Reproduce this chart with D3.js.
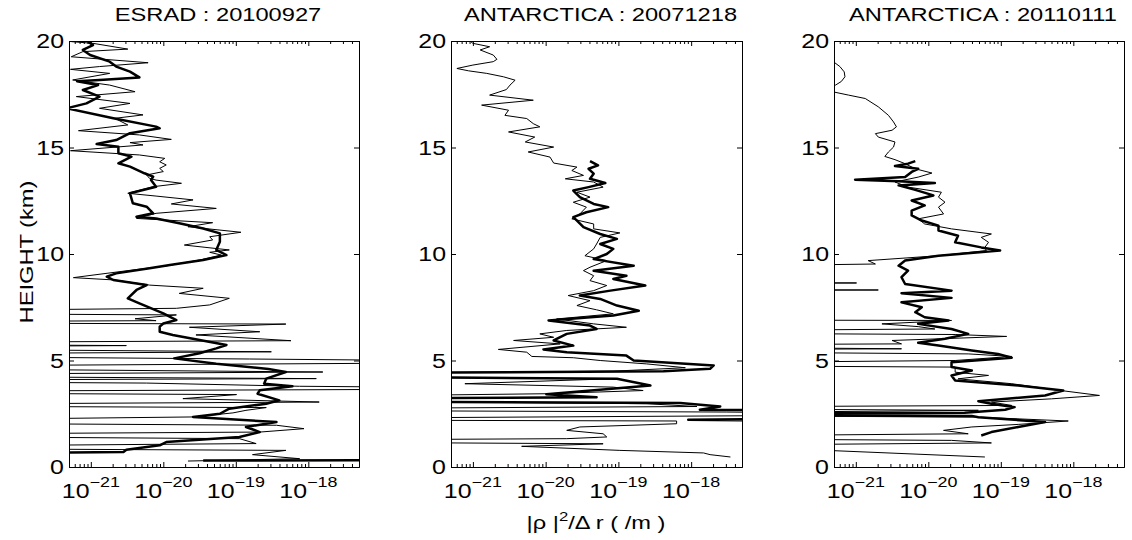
<!DOCTYPE html>
<html><head><meta charset="utf-8">
<script src="https://cdn.jsdelivr.net/npm/d3@7"></script>
<style>
body{margin:0;background:#fff}
svg{display:block}
text{font-family:"Liberation Sans",Arial,Helvetica,sans-serif;fill:#000}
</style>
</head><body>
<svg id="c" width="1132" height="540"></svg>
<script>
// ---- tick labels & titles ----
const panelTitles = ["ESRAD : 20100927", "ANTARCTICA : 20071218", "ANTARCTICA : 20110111"];
const yTickValues = [0, 5, 10, 15, 20];
const xTickExponents = [-21, -20, -19, -18];
const xDomain = [5e-22, 5e-18];
const yDomain = [0, 20];
const yLabel = "HEIGHT (km)";

// ---- profiles: [height km, log10(|rho|^2/Δr  /m)] ----
const esradThin = [[19.97,-21.27],[19.89,-20.97],[19.62,-20.49],[19.50,-21.11],[19.26,-21.27],[18.98,-20.21],[18.80,-20.88],[18.67,-21.28],[18.48,-20.74],[18.17,-21.25],[17.93,-20.74],[17.62,-20.39],[17.39,-21.20],[17.07,-20.46],[16.84,-20.88],[16.53,-20.28],[16.37,-20.67],[16.06,-20.49],[15.79,-21.17],[15.59,-20.33],[15.38,-19.89],[15.23,-20.46],[15.12,-20.28],[14.85,-21.28],[14.65,-20.33],[14.49,-19.98],[14.33,-20.05],[14.18,-19.96],[14.02,-20.05],[13.87,-20.00],[13.71,-20.23],[13.55,-20.19],[13.47,-20.10],[13.32,-19.75],[13.16,-20.14],[12.85,-20.49],[12.72,-20.10],[12.54,-19.59],[12.35,-19.89],[12.14,-19.27],[11.91,-20.10],[11.67,-20.37],[11.47,-19.32],[11.28,-19.66],[11.02,-18.93],[10.81,-19.36],[10.66,-19.32],[10.42,-19.71],[10.19,-19.09],[10.08,-19.36],[9.95,-19.20],[9.72,-19.50],[9.44,-19.96],[9.25,-20.42],[9.01,-20.97],[8.89,-21.24],[8.78,-20.67],[8.54,-20.19],[8.39,-19.45],[8.15,-19.78],[7.92,-19.09],[7.61,-19.36],[7.45,-19.82],[7.25,-26],[7.14,-19.82],[6.96,-20.39],[6.87,-20.10],[6.79,-26],[6.71,-18.31],[6.56,-19.64],[6.35,-18.67],[6.20,-19.55],[5.93,-18.24],[5.81,-26],[5.70,-20.51],[5.60,-26],[5.41,-18.51],[5.26,-26],[5.07,-18.81],[4.93,-14],[4.69,-26],[4.46,-17.80],[4.30,-26],[4.15,-17.89],[4.05,-26],[3.94,-20.23],[3.79,-18.12],[3.68,-14],[3.52,-26],[3.40,-18.99],[3.21,-19.73],[3.05,-17.85],[2.90,-26],[2.79,-18.58],[2.66,-18.86],[2.54,-19.04],[2.35,-19.59],[2.11,-26],[1.96,-18.44],[1.80,-18.06],[1.64,-18.67],[1.49,-26],[1.33,-18.95],[1.10,-18.72],[0.91,-26],[0.78,-18.31],[0.58,-18.77],[0.39,-18.12],[0.28,-19.66]];
const esradThick = [[19.97,-21.04],[19.81,-20.97],[19.58,-21.11],[19.34,-21.01],[19.03,-20.74],[18.80,-20.65],[18.56,-20.46],[18.29,-20.33],[18.17,-20.88],[18.11,-21.19],[17.93,-20.90],[17.70,-21.11],[17.39,-20.88],[17.07,-21.06],[16.84,-21.33],[16.37,-20.69],[15.98,-20.10],[15.90,-20.05],[15.67,-20.46],[15.35,-20.65],[15.16,-20.92],[15.04,-20.62],[14.73,-20.62],[14.57,-20.44],[14.26,-20.62],[14.10,-20.46],[13.79,-20.26],[13.63,-20.14],[13.47,-20.17],[13.16,-20.10],[12.85,-20.46],[12.38,-20.42],[12.22,-20.23],[11.91,-20.14],[11.75,-20.37],[11.67,-20.10],[11.44,-19.78],[11.20,-19.45],[10.97,-19.22],[10.58,-19.22],[10.19,-19.27],[9.95,-19.13],[9.72,-19.45],[9.48,-19.91],[9.33,-20.19],[9.09,-20.65],[8.94,-20.78],[8.78,-20.69],[8.54,-20.23],[8.31,-20.37],[7.92,-20.49],[7.68,-20.33],[7.21,-20.00],[6.90,-19.82],[6.74,-20.00],[6.59,-20.05],[6.35,-20.05],[6.20,-19.87],[5.96,-19.50],[5.73,-19.13],[5.57,-19.27],[5.34,-19.50],[5.10,-19.85],[4.85,-19.27],[4.60,-18.55],[4.46,-18.31],[4.15,-18.58],[3.91,-18.61],[3.79,-18.22],[3.60,-18.67],[3.44,-18.70],[3.13,-18.40],[2.97,-18.58],[2.74,-19.09],[2.50,-19.22],[2.35,-19.59],[2.11,-18.44],[1.88,-18.86],[1.64,-18.67],[1.41,-18.95],[1.17,-19.96],[1.02,-20.05],[0.81,-20.51],[0.70,-20.55],[0.55,-26],[null,null],[0.33,-14],[0.30,-19.45]];

const ant07Thin = [[20.0,-21.04],[19.89,-21.0],[19.73,-20.77],[19.58,-20.90],[19.34,-20.72],[19.14,-20.67],[19.03,-20.72],[18.87,-21.0],[18.71,-21.22],[18.60,-21.06],[18.48,-20.81],[18.32,-20.58],[18.16,-20.42],[17.93,-20.49],[17.72,-20.54],[17.46,-20.77],[17.22,-20.17],[16.99,-20.88],[16.75,-20.51],[16.51,-20.56],[16.36,-20.26],[16.12,-20.17],[15.97,-20.08],[15.73,-20.51],[15.49,-20.15],[15.26,-20.28],[15.02,-19.89],[14.79,-20.24],[14.55,-19.94],[14.27,-19.89],[14.08,-19.57],[13.92,-19.64],[13.69,-19.48],[13.53,-19.73],[13.38,-19.34],[13.14,-19.21],[12.90,-19.57],[12.67,-19.39],[12.43,-19.62],[12.20,-19.44],[11.88,-19.53],[11.65,-19.64],[11.41,-19.34],[11.18,-19.34],[10.99,-18.98],[10.78,-19.25],[10.47,-19.30],[10.24,-19.34],[9.92,-19.46],[9.69,-19.16],[9.38,-19.39],[9.22,-19.48],[8.98,-19.34],[8.75,-19.39],[8.52,-19.16],[8.28,-19.34],[8.05,-19.69],[7.81,-19.39],[7.58,-19.57],[7.38,-19.30],[7.19,-19.07],[6.95,-19.85],[6.72,-19.34],[6.56,-18.89],[6.41,-19.71],[6.25,-20.08],[6.09,-19.89],[5.94,-20.44],[5.78,-19.80],[5.52,-20.65],[5.39,-20.26],[5.19,-20.19],[5.13,-19.62],[5.00,-19.25],[4.84,-18.61],[4.66,-18.08],[4.50,-19.07],[4.30,-26],[4.14,-19.11],[3.91,-21.11],[3.75,-19.07],[3.59,-18.66],[3.44,-19.99],[3.20,-26],[2.97,-18.61],[2.84,-17.92],[2.69,-26],[2.58,-17.51],[2.47,-14],[2.23,-26],[2.16,-18.20],[2.03,-18.20],[1.88,-19.53],[1.72,-19.71],[1.56,-19.21],[1.41,-19.16],[1.33,-19.71],[1.22,-26],[1.09,-19.21],[0.97,-20.33],[0.78,-18.98],[0.66,-17.83],[0.58,-17.74],[0.47,-17.46]];
const ant07Thick = [[14.36,-19.39],[14.16,-19.28],[14.00,-19.41],[13.77,-19.34],[13.53,-19.39],[13.33,-19.18],[13.14,-19.41],[12.98,-19.62],[12.67,-19.53],[12.35,-19.34],[12.20,-19.14],[11.96,-19.44],[11.73,-19.62],[11.57,-19.57],[11.26,-19.48],[10.94,-19.25],[10.71,-19.02],[10.47,-19.25],[10.24,-19.07],[10.00,-19.16],[9.76,-19.34],[9.45,-18.79],[9.21,-19.34],[8.98,-18.89],[8.83,-19.07],[8.52,-18.63],[8.28,-19.11],[8.05,-19.53],[7.89,-19.25],[7.58,-19.02],[7.34,-18.72],[7.11,-19.07],[6.88,-19.96],[6.64,-19.39],[6.48,-19.30],[6.25,-19.71],[5.94,-19.89],[5.70,-19.62],[5.52,-20.03],[5.39,-19.71],[5.23,-18.89],[5.00,-18.79],[4.77,-17.69],[4.61,-17.74],[4.50,-18.38],[4.33,-26],[4.14,-19.02],[3.83,-18.56],[3.41,-19.99],[3.28,-19.30],[3.13,-26],[3.00,-18.15],[2.84,-17.60],[2.69,-17.88],[2.58,-14],[2.34,-14],[2.22,-18.04],[2.06,-14]];

const ant11Thin = [[20.0,-21.5],[19.6,-21.3],[19.4,-21.6],[19.1,-21.35],[19.03,-21.31],[18.80,-21.22],[18.55,-21.16],[18.32,-21.15],[18.10,-21.20],[17.93,-21.28],[17.80,-21.33],[17.65,-21.36],[17.61,-21.31],[17.46,-21.10],[17.30,-20.87],[16.91,-20.69],[16.51,-20.55],[16.20,-20.48],[15.97,-20.44],[15.81,-20.50],[15.65,-20.73],[15.49,-20.69],[15.26,-20.46],[15.02,-20.48],[14.79,-20.55],[14.58,-20.60],[14.43,-20.46],[14.24,-20.32],[14.00,-20.18],[13.80,-19.95],[13.61,-20.14],[13.38,-20.46],[13.14,-20.28],[12.90,-19.82],[12.67,-19.86],[12.43,-19.77],[12.20,-19.86],[11.88,-19.79],[11.65,-20.14],[11.41,-20.05],[11.18,-19.68],[10.94,-19.13],[10.78,-19.27],[10.55,-19.17],[10.31,-19.22],[10.16,-19.20],[9.92,-19.86],[9.69,-20.83],[9.53,-20.73],[9.29,-26],[8.67,-26],[8.64,-20.99],[8.60,-26],[8.34,-26],[8.31,-20.69],[8.27,-26],[6.92,-26],[6.88,-19.68],[6.72,-20.64],[6.59,-20.14],[6.48,-19.91],[6.33,-26],[6.22,-19.63],[6.13,-18.92],[5.94,-20.50],[5.78,-20.37],[5.70,-26],[5.55,-20.37],[5.47,-26],[5.31,-19.45],[5.19,-18.85],[5.00,-19.63],[4.81,-26],[4.69,-19.63],[4.45,-19.63],[4.30,-19.17],[4.14,-19.59],[3.91,-18.85],[3.59,-18.17],[3.36,-17.64],[3.20,-18.30],[3.05,-19.13],[2.89,-18.85],[2.78,-26],[2.66,-19.31],[2.47,-26],[2.34,-19.31],[2.16,-18.07],[2.00,-18.76],[1.88,-19.40],[1.72,-19.79],[1.56,-19.45],[1.38,-26],[1.25,-19.68],[1.13,-19.13],[0.94,-26],[0.78,-21.40],[0.47,-19.22]];
const ant11Thick = [[14.36,-20.18],[14.24,-20.28],[14.13,-20.46],[14.00,-20.14],[13.85,-20.23],[13.61,-20.32],[13.49,-21.01],[13.42,-20.41],[13.33,-19.91],[13.22,-20.41],[13.01,-20.18],[12.75,-19.93],[12.51,-20.23],[12.28,-20.05],[12.04,-20.23],[11.81,-20.23],[11.57,-20.09],[11.33,-19.86],[11.10,-19.86],[10.86,-19.59],[10.55,-19.63],[10.31,-19.27],[10.16,-19.01],[9.92,-19.86],[9.69,-20.32],[9.45,-20.41],[9.22,-20.28],[8.91,-20.37],[8.59,-20.32],[8.28,-19.68],[8.16,-20.37],[7.94,-19.68],[7.73,-20.37],[7.50,-20.09],[7.27,-20.18],[7.03,-20.05],[6.88,-19.72],[6.72,-20.14],[6.48,-19.68],[6.25,-19.45],[6.02,-19.77],[5.83,-20.14],[5.70,-19.86],[5.47,-19.40],[5.31,-19.04],[5.13,-18.85],[4.92,-19.68],[4.69,-19.68],[4.53,-19.40],[4.30,-19.68],[4.06,-19.63],[3.83,-18.76],[3.59,-18.14],[3.36,-18.39],[3.09,-19.31],[2.97,-19.13],[2.81,-18.81],[2.69,-18.94],[2.55,-19.50],[2.47,-26],[2.40,-19.40],[2.34,-19.31],[2.11,-18.39],[1.88,-18.76],[1.64,-19.13],[1.48,-19.27]];

const xLabelMain = ["|ρ |", "2", "/Δ r  ( /m )"];

// ---- drawing ----
const svg = d3.select("#c");
const plotTop = 41, plotBottom = 467;
const panels = [
  {title: panelTitles[0], thin: esradThin, thick: esradThick, x0: 69, x1: 359},
  {title: panelTitles[1], thin: ant07Thin, thick: ant07Thick, x0: 451, x1: 742},
  {title: panelTitles[2], thin: ant11Thin, thick: ant11Thick, x0: 834, x1: 1124}
];
const y = d3.scaleLinear().domain(yDomain).range([plotBottom, plotTop]);
const SX = 1.28;

panels.forEach((p, i) => {
  const x = d3.scaleLog().domain(xDomain).range([p.x0, p.x1]);
  const g = svg.append("g");
  const cid = "clip" + i;
  svg.append("defs").append("clipPath").attr("id", cid)
    .append("rect").attr("x", p.x0).attr("y", plotTop)
    .attr("width", p.x1 - p.x0).attr("height", plotBottom - plotTop);

  const line = d3.line()
    .defined(d => d[0] != null)
    .x(d => x(Math.pow(10, d[1])))
    .y(d => y(d[0]));

  g.append("path").attr("clip-path", `url(#${cid})`)
    .attr("d", line(p.thin)).attr("fill", "none")
    .attr("stroke", "#000").attr("stroke-width", 1).attr("stroke-linejoin", "round");
  g.append("path").attr("clip-path", `url(#${cid})`)
    .attr("d", line(p.thick)).attr("fill", "none")
    .attr("stroke", "#000").attr("stroke-width", 2.5).attr("stroke-linejoin", "round");

  const all = x.ticks();
  const isMajor = v => Math.abs(Math.log10(v) - Math.round(Math.log10(v))) < 1e-6;
  const major = xTickExponents.map(e => Math.pow(10, e));
  const minor = all.filter(v => !isMajor(v));

  const mkAx = (axFn, vals, size) => axFn(x).tickValues(vals).tickSize(size).tickSizeOuter(0).tickFormat("");
  [[d3.axisBottom, plotBottom], [d3.axisTop, plotTop]].forEach(([fn, ty]) => {
    g.append("g").attr("transform", `translate(0,${ty})`).call(mkAx(fn, minor, -3));
    g.append("g").attr("transform", `translate(0,${ty})`).call(mkAx(fn, major, -5));
  });
  g.append("g").attr("transform", `translate(${p.x0},0)`)
    .call(d3.axisLeft(y).tickValues(yTickValues).tickSize(-5).tickSizeOuter(0).tickFormat(""));
  g.append("g").attr("transform", `translate(${p.x1},0)`)
    .call(d3.axisRight(y).tickValues(yTickValues).tickSize(-5).tickSizeOuter(0).tickFormat(""));
  g.selectAll(".domain").attr("stroke", "#000").attr("stroke-width", 1);
  g.selectAll(".tick line").attr("stroke", "#000");

  // y tick labels
  yTickValues.forEach(v => {
    g.append("g").attr("transform", `translate(${p.x0 - 5},${y(v) + 7}) scale(${SX},1)`)
      .append("text").attr("text-anchor", "end").attr("font-size", 19.5).text(v);
  });
  // x tick labels
  xTickExponents.forEach(e => {
    const t = g.append("g").attr("transform", `translate(${x(Math.pow(10, e))},498) scale(${SX},1)`)
      .append("text").attr("text-anchor", "middle").attr("font-size", 19.5);
    t.append("tspan").text("10");
    t.append("tspan").attr("font-size", 14).attr("dy", -11).text("\u2212" + Math.abs(e));
  });
  // title
  g.append("g").attr("transform", `translate(${(p.x0 + p.x1) / 2 + 4},21) scale(${SX},1)`)
    .append("text").attr("text-anchor", "middle").attr("font-size", 18.5).text(p.title);
});

// y axis label
svg.append("g").attr("transform", `translate(32.5,252) rotate(-90) scale(${SX},1)`)
  .append("text").attr("text-anchor", "middle").attr("font-size", 18.5).text(yLabel);

// x axis label
{
  const t = svg.append("g").attr("transform", `translate(596,529) scale(${SX},1)`)
    .append("text").attr("text-anchor", "middle").attr("font-size", 18.5);
  t.append("tspan").text(xLabelMain[0]);
  t.append("tspan").attr("font-size", 13).attr("dy", -8).text(xLabelMain[1]);
  t.append("tspan").attr("dy", 8).text(xLabelMain[2]);
}
</script>
</body></html>
